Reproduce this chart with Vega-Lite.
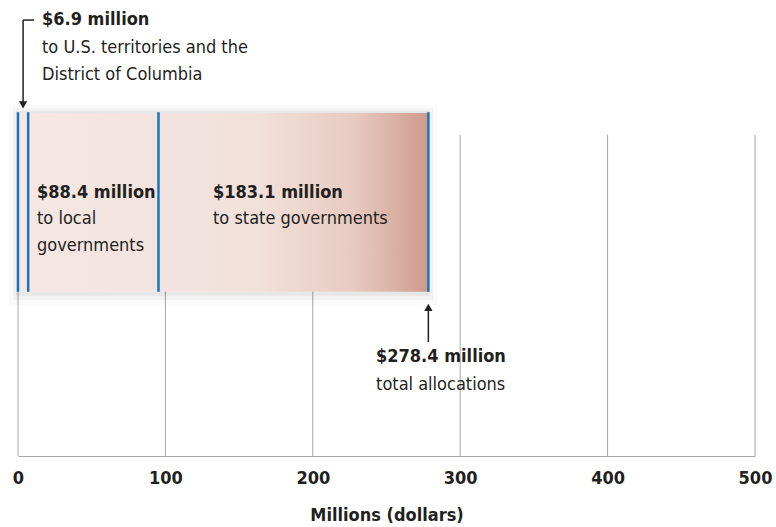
{
  "$schema": "https://vega.github.io/schema/vega-lite/v6.json",
  "width": 737,
  "height": 456,
  "autosize": {"type": "none"},
  "padding": {"left": 18, "top": 0, "right": 21, "bottom": 71},
  "background": "#ffffff",
  "config": {
    "view": {"stroke": null},
    "font": "DejaVu Sans Condensed"
  },
  "datasets": {
    "total": [{"start": 0, "end": 278.4}],
    "boundaries": [{"value": 0}, {"value": 6.9}, {"value": 95.3}, {"value": 278.4}],
    "grid": [{"g": 0}, {"g": 100}, {"g": 200}, {"g": 300}, {"g": 400}, {"g": 500}],
    "labels": [
      {"x": 16.3, "y": 95.6, "text": "$6.9 million", "kind": "head"},
      {"x": 16.3, "y": 89.5, "text": "to U.S. territories and the", "kind": "body"},
      {"x": 16.3, "y": 83.6, "text": "District of Columbia", "kind": "body"},
      {"x": 12.9, "y": 57.7, "text": "$88.4 million", "kind": "head"},
      {"x": 12.9, "y": 52.0, "text": "to local", "kind": "body"},
      {"x": 12.9, "y": 46.1, "text": "governments", "kind": "body"},
      {"x": 132.3, "y": 57.7, "text": "$183.1 million", "kind": "head"},
      {"x": 132.3, "y": 52.0, "text": "to state governments", "kind": "body"},
      {"x": 242.9, "y": 21.7, "text": "$278.4 million", "kind": "head"},
      {"x": 242.9, "y": 15.6, "text": "total allocations", "kind": "body"}
    ],
    "arrowLines": [
      {"x": 3.45, "x2": 3.45, "y": 77.6, "y2": 95.6},
      {"x": 3.45, "x2": 10.9, "y": 95.6, "y2": 95.6},
      {"x": 278.4, "x2": 278.4, "y": 25.0, "y2": 32.0}
    ],
    "arrowHeads": [
      {"x": 3.45, "y": 77.0, "dir": "down"},
      {"x": 278.4, "y": 32.6, "dir": "up"}
    ]
  },
  "layer": [
    {
      "data": {"name": "grid"},
      "mark": {"type": "rule", "color": "#a6a6a6", "strokeWidth": 1},
      "encoding": {
        "x": {
          "field": "g", "type": "quantitative",
          "scale": {"domain": [0, 500], "nice": false, "zero": true},
          "axis": {
            "values": [0, 100, 200, 300, 400, 500],
            "grid": false, "ticks": false,
            "domain": true, "domainColor": "#a6a6a6", "domainWidth": 1,
            "labelFont": "DejaVu Sans Condensed", "labelFontWeight": "bold",
            "labelFontSize": 18, "labelColor": "#231f20", "labelPadding": 13,
            "labelFlush": false,
            "title": "Millions (dollars)",
            "titleFont": "DejaVu Sans Condensed", "titleFontWeight": "bold",
            "titleFontSize": 18, "titleColor": "#231f20", "titlePadding": 19
          }
        },
        "y": {"datum": 0, "type": "quantitative", "scale": {"domain": [0, 100], "nice": false}, "axis": null},
        "y2": {"datum": 70.4}
      }
    },
    {
      "data": {"name": "total"},
      "mark": {"type": "rect", "fill": null, "stroke": "#000000", "strokeWidth": 18, "strokeOpacity": 0.02},
      "encoding": {
        "x": {"field": "start", "type": "quantitative"},
        "x2": {"field": "end"},
        "y": {"datum": 35.0, "type": "quantitative"},
        "y2": {"datum": 75.0}
      }
    },
    {
      "data": {"name": "total"},
      "mark": {"type": "rect", "fill": null, "stroke": "#000000", "strokeWidth": 10, "strokeOpacity": 0.03},
      "encoding": {
        "x": {"field": "start", "type": "quantitative"},
        "x2": {"field": "end"},
        "y": {"datum": 35.3, "type": "quantitative"},
        "y2": {"datum": 75.1}
      }
    },
    {
      "data": {"name": "total"},
      "mark": {"type": "rect", "fill": null, "stroke": "#000000", "strokeWidth": 4, "strokeOpacity": 0.045},
      "encoding": {
        "x": {"field": "start", "type": "quantitative"},
        "x2": {"field": "end"},
        "y": {"datum": 35.6, "type": "quantitative"},
        "y2": {"datum": 75.2}
      }
    },
    {
      "data": {"name": "total"},
      "mark": {
        "type": "rect",
        "color": {
          "gradient": "linear",
          "x1": 0, "y1": 0, "x2": 1, "y2": 0,
          "stops": [
            {"offset": 0, "color": "#f5e7e3"},
            {"offset": 0.58, "color": "#f2e1db"},
            {"offset": 0.82, "color": "#e8cac0"},
            {"offset": 1, "color": "#cf9a8d"}
          ]
        }
      },
      "encoding": {
        "x": {"field": "start", "type": "quantitative"},
        "x2": {"field": "end"},
        "y": {"datum": 36.0, "type": "quantitative"},
        "y2": {"datum": 75.2}
      }
    },
    {
      "data": {"name": "boundaries"},
      "mark": {"type": "rule", "color": "#1b75bc", "strokeWidth": 2.5},
      "encoding": {
        "x": {"field": "value", "type": "quantitative"},
        "y": {"datum": 36.0, "type": "quantitative"},
        "y2": {"datum": 75.4}
      }
    },
    {
      "data": {"name": "arrowLines"},
      "mark": {"type": "rule", "color": "#231f20", "strokeWidth": 1.5},
      "encoding": {
        "x": {"field": "x", "type": "quantitative"},
        "x2": {"field": "x2"},
        "y": {"field": "y", "type": "quantitative"},
        "y2": {"field": "y2"}
      }
    },
    {
      "data": {"name": "arrowHeads"},
      "mark": {"type": "point", "filled": true, "color": "#231f20", "size": 70, "opacity": 1},
      "encoding": {
        "x": {"field": "x", "type": "quantitative"},
        "y": {"field": "y", "type": "quantitative"},
        "shape": {
          "field": "dir", "type": "nominal",
          "scale": {"domain": ["down", "up"], "range": ["triangle-down", "triangle-up"]},
          "legend": null
        }
      }
    },
    {
      "data": {"name": "labels"},
      "transform": [{"filter": "datum.kind === 'head'"}],
      "mark": {"type": "text", "align": "left", "baseline": "middle", "font": "DejaVu Sans Condensed", "fontWeight": "bold", "fontSize": 18, "color": "#231f20"},
      "encoding": {
        "x": {"field": "x", "type": "quantitative"},
        "y": {"field": "y", "type": "quantitative"},
        "text": {"field": "text"}
      }
    },
    {
      "data": {"name": "labels"},
      "transform": [{"filter": "datum.kind === 'body'"}],
      "mark": {"type": "text", "align": "left", "baseline": "middle", "font": "DejaVu Sans Condensed", "fontSize": 18, "color": "#231f20"},
      "encoding": {
        "x": {"field": "x", "type": "quantitative"},
        "y": {"field": "y", "type": "quantitative"},
        "text": {"field": "text"}
      }
    }
  ]
}
